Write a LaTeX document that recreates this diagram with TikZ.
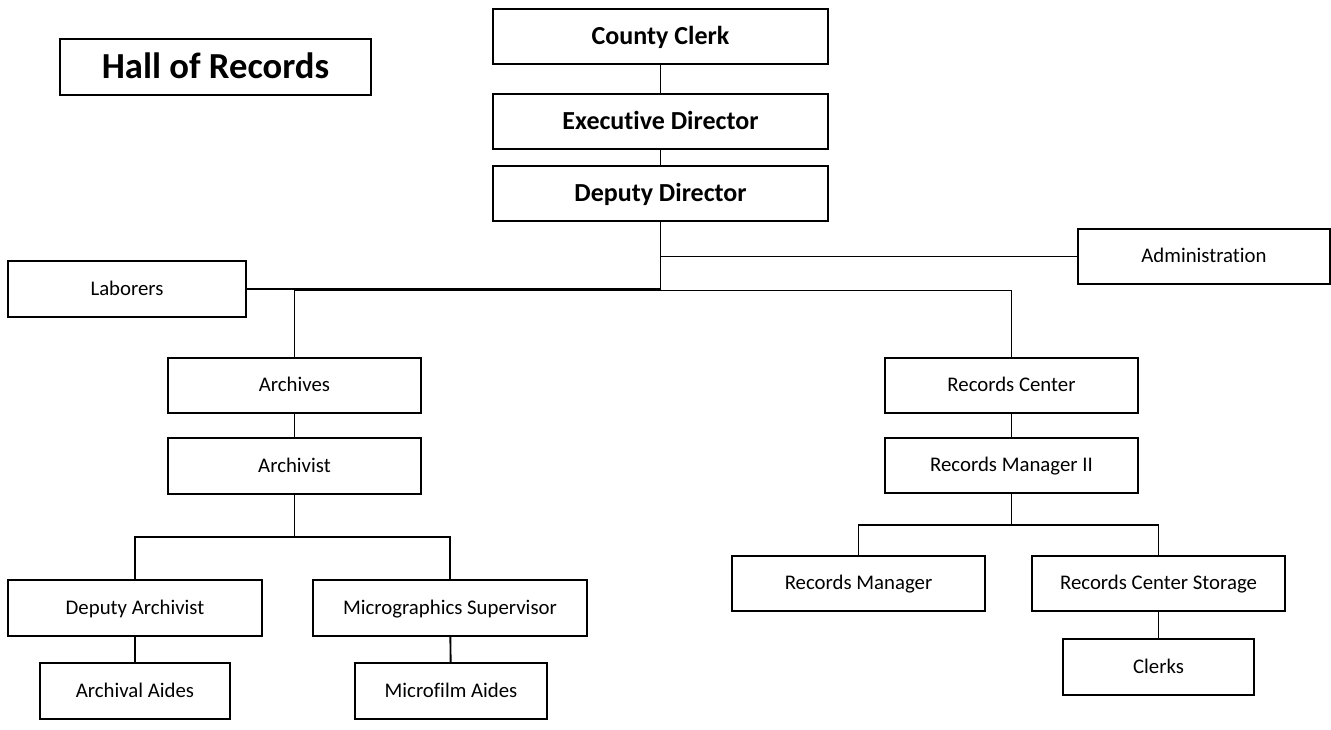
\documentclass[tikz,border=0pt]{standalone}
\usepackage{fontspec}
\setmainfont{Carlito}[Ligatures=NoCommon]
\usepackage{tikz}
\usetikzlibrary{positioning}
\newlength{\px}
\setlength{\px}{0.75pt}
\tikzstyle{every picture}=[line width=1.4pt]
\tikzstyle{topbox}=[draw,line width=1.7pt,inner sep=0pt,minimum width=335\px,minimum height=55\px,text height=12pt,text depth=0pt,font=\fontsize{19.5}{23}\selectfont\bfseries]
\tikzstyle{unit}=[draw,line width=1.7pt,inner sep=0pt,minimum width=253\px,minimum height=55\px,text height=9.7pt,text depth=0pt,font=\fontsize{15.6}{19}\selectfont]
\tikzstyle{small}=[unit,minimum width=191\px]

\begin{document}
\begin{tikzpicture}[x=0.75pt,y=-0.75pt]
\useasboundingbox (0,0) rectangle (1331,729);
\node[draw,line width=1.7pt,minimum width=311\px,minimum height=56\px,text height=17pt,text depth=0pt,font=\fontsize{27.5}{32}\selectfont\bfseries] (hall) at (215.5,67) {Hall of Records};
\node[topbox] (clerk) at (660.5,36.5) {County Clerk};
\node[topbox] (exec) at (660.5,121.5) {Executive Director};
\node[topbox] (deputy) at (660.5,193.5) {Deputy Director};
\node[unit,minimum width=252\px] (admin) at (1204,256.5) {Administration};
\node[unit,minimum width=238\px,minimum height=56\px] (laborers) at (127,289) {Laborers};
\node[unit] (archives) at (294.5,385.5) {Archives};
\node[unit,minimum height=56\px] (archivist) at (294.5,466) {Archivist};
\node[unit] (center) at (1011.5,385.5) {Records Center};
\node[unit] (mgrii) at (1011.5,465.5) {Records Manager II};
\node[unit,minimum width=254\px,minimum height=56\px] (deparch) at (135,608) {Deputy Archivist};
\node[unit,minimum width=274\px,minimum height=56\px] (micro) at (450,608) {Micrographics Supervisor};
\node[small,minimum width=190\px,minimum height=56\px] (archaides) at (135,691) {Archival Aides};
\node[small,minimum width=192\px,minimum height=56\px] (filmaides) at (451,691) {Microfilm Aides};
\node[unit] (mgr) at (858.5,583.5) {Records Manager};
\node[unit] (storage) at (1158.5,583.5) {Records Center Storage};
\node[small,minimum height=56\px] (clerks) at (1158.5,667) {Clerks};
\coordinate (bar) at (660.5,290.5);
\coordinate (aj) at (294.5,537);
\coordinate (rj) at (1011.5,525);
\draw (clerk) -- (exec);
\draw (exec) -- (deputy);
\draw (deputy.south) |- (laborers.east);
\draw (deputy.south |- admin.west) -- (admin.west);
\draw (archives.north) |- (bar) -| (center.north);
\draw (archives) -- (archivist);
\draw (archivist.south) -- (aj);
\draw (deparch.north) |- (aj) -| (micro.north);
\draw (deparch) -- (archaides);
\draw (micro) -- (filmaides);
\draw (center) -- (mgrii);
\draw (mgrii.south) -- (rj);
\draw (mgr.north) |- (rj) -| (storage.north);
\draw (storage) -- (clerks);
\end{tikzpicture}
\end{document}
